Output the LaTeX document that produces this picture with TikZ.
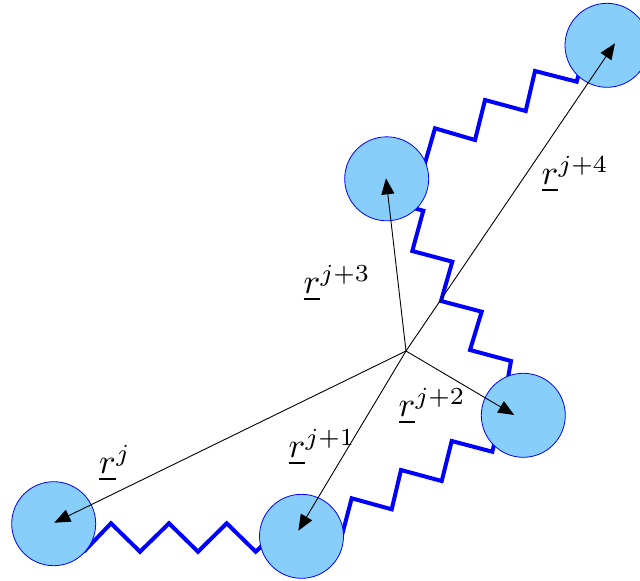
\documentclass[tikz,border=0pt]{standalone}
\usetikzlibrary{arrows.meta}
\definecolor{ballfill}{RGB}{135,206,250}
\begin{document}
\begin{tikzpicture}[x=1pt,y=-1pt,
  ball/.style={circle,draw=blue,line width=0.8pt,fill=ballfill,minimum size=84pt,inner sep=0pt},
  spring/.style={draw=blue,line width=4pt},
  vec/.style={line width=0.9pt,-{Triangle[length=16pt,width=13pt]}},
  lab/.style={inner sep=0pt,scale=3.5}]
\useasboundingbox (0,0) rectangle (640,581);
% springs (behind balls)
\draw[spring] (84,551.5) -- (111,523.3) -- (140,551.7) -- (169,523.3) -- (198,551.7) -- (226.7,523.3) -- (255.7,551.7) -- (264,544);
\draw[spring] (341.5,537) -- (351.7,498.3) -- (391.7,509.3) -- (401,470) -- (441.7,481) -- (451.7,441) -- (492.3,451.7) -- (495,441);
\draw[spring] (412,207.6) -- (423.3,210.7) -- (412.3,251) -- (452.3,261.7) -- (441,301) -- (481.7,311.7) -- (470,350) -- (511,361) -- (508,378);
\draw[spring] (423,170) -- (435,128.3) -- (475,140) -- (485,100) -- (525.7,111) -- (535,71) -- (576.7,81.7) -- (579,73);
% balls
\node[ball] (c1) at (53.7,523.7) {};
\node[ball] (c2) at (301.5,536.3) {};
\node[ball] (c3) at (523.3,415.3) {};
\node[ball] (c4) at (386.7,178.8) {};
\node[ball] (c5) at (607,45.3) {};
% vectors
\coordinate (O) at (406,351);
\coordinate (t1) at (54.3,522.7);
\coordinate (t2) at (298.3,530.7);
\coordinate (t3) at (514.3,415);
\coordinate (t4) at (386,178.3);
\coordinate (t5) at (615,43.3);
\draw[vec] (O) -- (t1);
\draw[vec] (O) -- (t2);
\draw[vec] (O) -- (t3);
\draw[vec] (O) -- (t4);
\draw[vec] (O) -- (t5);
% labels
\node[lab] (l1) at (115,463) {$\underline{r}^{j}$};
\node[lab] (l2) at (322,447) {$\underline{r}^{j+1}$};
\node[lab] (l3) at (432,406) {$\underline{r}^{j+2}$};
\node[lab] (l4) at (337,283) {$\underline{r}^{j+3}$};
\node[lab] (l5) at (575,174) {$\underline{r}^{j+4}$};
\end{tikzpicture}
\end{document}
